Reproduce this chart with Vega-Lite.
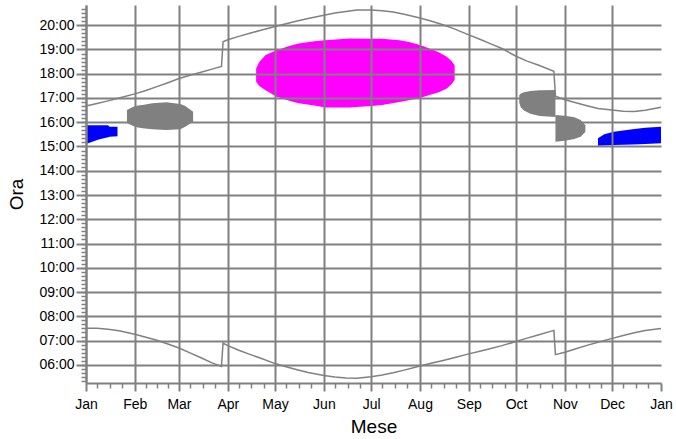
{
  "$schema": "https://vega.github.io/schema/vega-lite/v6.json",
  "width": 575,
  "height": 378,
  "autosize": {"type": "none"},
  "padding": {"left": 86, "top": 5, "right": 15, "bottom": 56},
  "background": "white",
  "config": {"view": {"stroke": null}, "font": "Liberation Sans"},
  "datasets": {
    "sole": [
      {"serie": "tramonto", "data": "2009-01-01", "ora": 16.67},
      {"serie": "tramonto", "data": "2009-01-08", "ora": 16.77},
      {"serie": "tramonto", "data": "2009-01-15", "ora": 16.88},
      {"serie": "tramonto", "data": "2009-01-22", "ora": 17.00},
      {"serie": "tramonto", "data": "2009-02-01", "ora": 17.17},
      {"serie": "tramonto", "data": "2009-02-08", "ora": 17.31},
      {"serie": "tramonto", "data": "2009-02-15", "ora": 17.47},
      {"serie": "tramonto", "data": "2009-02-22", "ora": 17.63},
      {"serie": "tramonto", "data": "2009-03-01", "ora": 17.80},
      {"serie": "tramonto", "data": "2009-03-08", "ora": 17.94},
      {"serie": "tramonto", "data": "2009-03-15", "ora": 18.06},
      {"serie": "tramonto", "data": "2009-03-22", "ora": 18.19},
      {"serie": "tramonto", "data": "2009-03-28", "ora": 18.30},
      {"serie": "tramonto", "data": "2009-03-29", "ora": 19.32},
      {"serie": "tramonto", "data": "2009-04-01", "ora": 19.40},
      {"serie": "tramonto", "data": "2009-04-08", "ora": 19.54},
      {"serie": "tramonto", "data": "2009-04-15", "ora": 19.67},
      {"serie": "tramonto", "data": "2009-04-22", "ora": 19.79},
      {"serie": "tramonto", "data": "2009-05-01", "ora": 19.95},
      {"serie": "tramonto", "data": "2009-05-08", "ora": 20.06},
      {"serie": "tramonto", "data": "2009-05-15", "ora": 20.17},
      {"serie": "tramonto", "data": "2009-05-22", "ora": 20.28},
      {"serie": "tramonto", "data": "2009-06-01", "ora": 20.41},
      {"serie": "tramonto", "data": "2009-06-08", "ora": 20.50},
      {"serie": "tramonto", "data": "2009-06-15", "ora": 20.57},
      {"serie": "tramonto", "data": "2009-06-22", "ora": 20.63},
      {"serie": "tramonto", "data": "2009-07-01", "ora": 20.63},
      {"serie": "tramonto", "data": "2009-07-08", "ora": 20.60},
      {"serie": "tramonto", "data": "2009-07-15", "ora": 20.54},
      {"serie": "tramonto", "data": "2009-07-22", "ora": 20.45},
      {"serie": "tramonto", "data": "2009-08-01", "ora": 20.30},
      {"serie": "tramonto", "data": "2009-08-08", "ora": 20.17},
      {"serie": "tramonto", "data": "2009-08-15", "ora": 20.03},
      {"serie": "tramonto", "data": "2009-08-22", "ora": 19.87},
      {"serie": "tramonto", "data": "2009-09-01", "ora": 19.60},
      {"serie": "tramonto", "data": "2009-09-08", "ora": 19.42},
      {"serie": "tramonto", "data": "2009-09-15", "ora": 19.23},
      {"serie": "tramonto", "data": "2009-09-22", "ora": 19.04},
      {"serie": "tramonto", "data": "2009-10-01", "ora": 18.72},
      {"serie": "tramonto", "data": "2009-10-08", "ora": 18.52},
      {"serie": "tramonto", "data": "2009-10-15", "ora": 18.36},
      {"serie": "tramonto", "data": "2009-10-25", "ora": 18.10},
      {"serie": "tramonto", "data": "2009-10-26", "ora": 17.07},
      {"serie": "tramonto", "data": "2009-11-01", "ora": 16.93},
      {"serie": "tramonto", "data": "2009-11-08", "ora": 16.80},
      {"serie": "tramonto", "data": "2009-11-15", "ora": 16.68},
      {"serie": "tramonto", "data": "2009-11-22", "ora": 16.57},
      {"serie": "tramonto", "data": "2009-12-01", "ora": 16.50},
      {"serie": "tramonto", "data": "2009-12-08", "ora": 16.45},
      {"serie": "tramonto", "data": "2009-12-15", "ora": 16.44},
      {"serie": "tramonto", "data": "2009-12-22", "ora": 16.49},
      {"serie": "tramonto", "data": "2010-01-01", "ora": 16.62},
      {"serie": "alba", "data": "2009-01-01", "ora": 7.51},
      {"serie": "alba", "data": "2009-01-08", "ora": 7.51},
      {"serie": "alba", "data": "2009-01-15", "ora": 7.47},
      {"serie": "alba", "data": "2009-01-22", "ora": 7.40},
      {"serie": "alba", "data": "2009-02-01", "ora": 7.26},
      {"serie": "alba", "data": "2009-02-08", "ora": 7.14},
      {"serie": "alba", "data": "2009-02-15", "ora": 7.01},
      {"serie": "alba", "data": "2009-02-22", "ora": 6.86},
      {"serie": "alba", "data": "2009-03-01", "ora": 6.69},
      {"serie": "alba", "data": "2009-03-08", "ora": 6.49},
      {"serie": "alba", "data": "2009-03-15", "ora": 6.29},
      {"serie": "alba", "data": "2009-03-22", "ora": 6.08},
      {"serie": "alba", "data": "2009-03-28", "ora": 5.93},
      {"serie": "alba", "data": "2009-03-29", "ora": 6.90},
      {"serie": "alba", "data": "2009-04-01", "ora": 6.79},
      {"serie": "alba", "data": "2009-04-08", "ora": 6.60},
      {"serie": "alba", "data": "2009-04-15", "ora": 6.43},
      {"serie": "alba", "data": "2009-04-22", "ora": 6.27},
      {"serie": "alba", "data": "2009-05-01", "ora": 6.05},
      {"serie": "alba", "data": "2009-05-08", "ora": 5.92},
      {"serie": "alba", "data": "2009-05-15", "ora": 5.80},
      {"serie": "alba", "data": "2009-05-22", "ora": 5.68},
      {"serie": "alba", "data": "2009-06-01", "ora": 5.56},
      {"serie": "alba", "data": "2009-06-08", "ora": 5.50},
      {"serie": "alba", "data": "2009-06-15", "ora": 5.46},
      {"serie": "alba", "data": "2009-06-22", "ora": 5.45},
      {"serie": "alba", "data": "2009-07-01", "ora": 5.51},
      {"serie": "alba", "data": "2009-07-08", "ora": 5.58},
      {"serie": "alba", "data": "2009-07-15", "ora": 5.67},
      {"serie": "alba", "data": "2009-07-22", "ora": 5.78},
      {"serie": "alba", "data": "2009-08-01", "ora": 5.95},
      {"serie": "alba", "data": "2009-08-08", "ora": 6.06},
      {"serie": "alba", "data": "2009-08-15", "ora": 6.17},
      {"serie": "alba", "data": "2009-08-22", "ora": 6.28},
      {"serie": "alba", "data": "2009-09-01", "ora": 6.45},
      {"serie": "alba", "data": "2009-09-08", "ora": 6.56},
      {"serie": "alba", "data": "2009-09-15", "ora": 6.67},
      {"serie": "alba", "data": "2009-09-22", "ora": 6.79},
      {"serie": "alba", "data": "2009-10-01", "ora": 6.96},
      {"serie": "alba", "data": "2009-10-08", "ora": 7.10},
      {"serie": "alba", "data": "2009-10-15", "ora": 7.23},
      {"serie": "alba", "data": "2009-10-25", "ora": 7.42},
      {"serie": "alba", "data": "2009-10-26", "ora": 6.42},
      {"serie": "alba", "data": "2009-11-01", "ora": 6.52},
      {"serie": "alba", "data": "2009-11-08", "ora": 6.66},
      {"serie": "alba", "data": "2009-11-15", "ora": 6.80},
      {"serie": "alba", "data": "2009-11-22", "ora": 6.93},
      {"serie": "alba", "data": "2009-12-01", "ora": 7.09},
      {"serie": "alba", "data": "2009-12-08", "ora": 7.21},
      {"serie": "alba", "data": "2009-12-15", "ora": 7.32},
      {"serie": "alba", "data": "2009-12-22", "ora": 7.41},
      {"serie": "alba", "data": "2010-01-01", "ora": 7.50}
    ],
    "macchie": [
      {"macchia": "b1", "colore": "blu", "data": "2009-01-01", "alto": 15.88, "basso": 15.10},
      {"macchia": "b1", "colore": "blu", "data": "2009-01-05", "alto": 15.88, "basso": 15.20},
      {"macchia": "b1", "colore": "blu", "data": "2009-01-09", "alto": 15.88, "basso": 15.29},
      {"macchia": "b1", "colore": "blu", "data": "2009-01-15", "alto": 15.88, "basso": 15.38},
      {"macchia": "b1", "colore": "blu", "data": "2009-01-16", "alto": 15.81, "basso": 15.40},
      {"macchia": "b1", "colore": "blu", "data": "2009-01-21", "alto": 15.81, "basso": 15.42},
      {"macchia": "g1", "colore": "grigio", "data": "2009-01-27", "alto": 16.50, "basso": 15.97},
      {"macchia": "g1", "colore": "grigio", "data": "2009-01-31", "alto": 16.64, "basso": 15.84},
      {"macchia": "g1", "colore": "grigio", "data": "2009-02-03", "alto": 16.69, "basso": 15.78},
      {"macchia": "g1", "colore": "grigio", "data": "2009-02-06", "alto": 16.71, "basso": 15.75},
      {"macchia": "g1", "colore": "grigio", "data": "2009-02-12", "alto": 16.78, "basso": 15.71},
      {"macchia": "g1", "colore": "grigio", "data": "2009-02-21", "alto": 16.82, "basso": 15.68},
      {"macchia": "g1", "colore": "grigio", "data": "2009-03-02", "alto": 16.75, "basso": 15.71},
      {"macchia": "g1", "colore": "grigio", "data": "2009-03-05", "alto": 16.67, "basso": 15.81},
      {"macchia": "g1", "colore": "grigio", "data": "2009-03-10", "alto": 16.43, "basso": 16.02},
      {"macchia": "m1", "colore": "magenta", "data": "2009-04-19", "alto": 18.22, "basso": 17.67},
      {"macchia": "m1", "colore": "magenta", "data": "2009-04-21", "alto": 18.48, "basso": 17.49},
      {"macchia": "m1", "colore": "magenta", "data": "2009-04-25", "alto": 18.77, "basso": 17.32},
      {"macchia": "m1", "colore": "magenta", "data": "2009-05-02", "alto": 18.97, "basso": 17.05},
      {"macchia": "m1", "colore": "magenta", "data": "2009-05-10", "alto": 19.14, "basso": 16.89},
      {"macchia": "m1", "colore": "magenta", "data": "2009-05-16", "alto": 19.25, "basso": 16.78},
      {"macchia": "m1", "colore": "magenta", "data": "2009-05-26", "alto": 19.34, "basso": 16.69},
      {"macchia": "m1", "colore": "magenta", "data": "2009-06-02", "alto": 19.38, "basso": 16.61},
      {"macchia": "m1", "colore": "magenta", "data": "2009-06-17", "alto": 19.45, "basso": 16.61},
      {"macchia": "m1", "colore": "magenta", "data": "2009-07-01", "alto": 19.44, "basso": 16.67},
      {"macchia": "m1", "colore": "magenta", "data": "2009-07-08", "alto": 19.44, "basso": 16.71},
      {"macchia": "m1", "colore": "magenta", "data": "2009-07-19", "alto": 19.38, "basso": 16.83},
      {"macchia": "m1", "colore": "magenta", "data": "2009-07-25", "alto": 19.31, "basso": 16.91},
      {"macchia": "m1", "colore": "magenta", "data": "2009-08-01", "alto": 19.18, "basso": 17.00},
      {"macchia": "m1", "colore": "magenta", "data": "2009-08-07", "alto": 19.04, "basso": 17.12},
      {"macchia": "m1", "colore": "magenta", "data": "2009-08-13", "alto": 18.89, "basso": 17.24},
      {"macchia": "m1", "colore": "magenta", "data": "2009-08-18", "alto": 18.70, "basso": 17.39},
      {"macchia": "m1", "colore": "magenta", "data": "2009-08-21", "alto": 18.52, "basso": 17.57},
      {"macchia": "m1", "colore": "magenta", "data": "2009-08-23", "alto": 18.35, "basso": 17.74},
      {"macchia": "g2a", "colore": "grigio", "data": "2009-10-03", "alto": 17.10, "basso": 16.80},
      {"macchia": "g2a", "colore": "grigio", "data": "2009-10-04", "alto": 17.18, "basso": 16.62},
      {"macchia": "g2a", "colore": "grigio", "data": "2009-10-06", "alto": 17.24, "basso": 16.48},
      {"macchia": "g2a", "colore": "grigio", "data": "2009-10-10", "alto": 17.29, "basso": 16.35},
      {"macchia": "g2a", "colore": "grigio", "data": "2009-10-16", "alto": 17.32, "basso": 16.26},
      {"macchia": "g2a", "colore": "grigio", "data": "2009-10-26", "alto": 17.33, "basso": 16.22},
      {"macchia": "g2b", "colore": "grigio", "data": "2009-10-26", "alto": 16.30, "basso": 15.20},
      {"macchia": "g2b", "colore": "grigio", "data": "2009-11-01", "alto": 16.27, "basso": 15.24},
      {"macchia": "g2b", "colore": "grigio", "data": "2009-11-07", "alto": 16.21, "basso": 15.31},
      {"macchia": "g2b", "colore": "grigio", "data": "2009-11-11", "alto": 16.09, "basso": 15.40},
      {"macchia": "g2b", "colore": "grigio", "data": "2009-11-14", "alto": 15.88, "basso": 15.61},
      {"macchia": "b2", "colore": "blu", "data": "2009-11-22", "alto": 15.34, "basso": 15.03},
      {"macchia": "b2", "colore": "blu", "data": "2009-11-26", "alto": 15.51, "basso": 15.04},
      {"macchia": "b2", "colore": "blu", "data": "2009-12-02", "alto": 15.61, "basso": 15.06},
      {"macchia": "b2", "colore": "blu", "data": "2009-12-14", "alto": 15.71, "basso": 15.08},
      {"macchia": "b2", "colore": "blu", "data": "2009-12-22", "alto": 15.77, "basso": 15.10},
      {"macchia": "b2", "colore": "blu", "data": "2010-01-01", "alto": 15.81, "basso": 15.13}
    ]
  },
  "layer": [
    {
      "data": {"name": "macchie"},
      "mark": {"type": "area", "interpolate": "linear"},
      "encoding": {
        "x": {
          "field": "data", "type": "temporal",
          "scale": {"type": "utc", "domain": [{"year": 2009, "month": 1, "date": 1, "utc": true}, {"year": 2010, "month": 1, "date": 1, "utc": true}]},
          "axis": {
            "orient": "bottom",
            "values": [
              {"year": 2009, "month": 1, "date": 1, "utc": true},
              {"year": 2009, "month": 2, "date": 1, "utc": true},
              {"year": 2009, "month": 3, "date": 1, "utc": true},
              {"year": 2009, "month": 4, "date": 1, "utc": true},
              {"year": 2009, "month": 5, "date": 1, "utc": true},
              {"year": 2009, "month": 6, "date": 1, "utc": true},
              {"year": 2009, "month": 7, "date": 1, "utc": true},
              {"year": 2009, "month": 8, "date": 1, "utc": true},
              {"year": 2009, "month": 9, "date": 1, "utc": true},
              {"year": 2009, "month": 10, "date": 1, "utc": true},
              {"year": 2009, "month": 11, "date": 1, "utc": true},
              {"year": 2009, "month": 12, "date": 1, "utc": true},
              {"year": 2010, "month": 1, "date": 1, "utc": true}
            ],
            "format": "%b",
            "labelFlush": false,
            "labelOverlap": false,
            "labelBound": false,
            "labelFontSize": 14,
            "labelColor": "#000000",
            "labelPadding": 6,
            "tickSize": 8,
            "tickWidth": 2,
            "tickColor": "#808080",
            "domainColor": "#808080",
            "domainWidth": 2,
            "grid": true,
            "gridColor": "#808080",
            "gridWidth": 2,
            "gridOpacity": {"condition": {"test": "datum.value >= utc(2009, 11, 31)", "value": 0}, "value": 1},
            "zindex": 1,
            "title": "Mese",
            "titleFontSize": 19,
            "titleFontWeight": "normal",
            "titleColor": "#000000",
            "titlePadding": 6
          }
        },
        "y": {
          "field": "alto", "type": "quantitative",
          "scale": {"domain": [5.25, 20.8333], "nice": false, "zero": false},
          "axis": {
            "orient": "left",
            "values": [6, 7, 8, 9, 10, 11, 12, 13, 14, 15, 16, 17, 18, 19, 20],
            "labelExpr": "(datum.value < 10 ? '0' : '') + datum.value + ':00'",
            "labelFontSize": 14,
            "labelColor": "#000000",
            "labelPadding": 2,
            "tickSize": 10,
            "tickWidth": 2,
            "tickColor": "#808080",
            "domainColor": "#808080",
            "domainWidth": 2,
            "grid": true,
            "gridColor": "#808080",
            "gridWidth": 2,
            "zindex": 1,
            "title": "Ora",
            "titleFontSize": 19,
            "titleFontWeight": "normal",
            "titleColor": "#000000",
            "titlePadding": 12
          }
        },
        "y2": {"field": "basso"},
        "color": {
          "field": "colore", "type": "nominal",
          "scale": {"domain": ["blu", "grigio", "magenta"], "range": ["#0000ff", "#808080", "#ff00ff"]},
          "legend": null
        },
        "detail": {"field": "macchia"}
      }
    },
    {
      "data": {"name": "sole"},
      "mark": {"type": "line", "color": "#808080", "strokeWidth": 1.5},
      "encoding": {
        "x": {
          "field": "data", "type": "temporal",
          "scale": {"type": "utc", "domain": [{"year": 2009, "month": 1, "date": 1, "utc": true}, {"year": 2010, "month": 1, "date": 1, "utc": true}]},
          "axis": {
            "orient": "bottom",
            "values": [
              {"year": 2009, "month": 1, "date": 8, "utc": true},
              {"year": 2009, "month": 1, "date": 16, "utc": true},
              {"year": 2009, "month": 1, "date": 24, "utc": true},
              {"year": 2009, "month": 2, "date": 8, "utc": true},
              {"year": 2009, "month": 2, "date": 15, "utc": true},
              {"year": 2009, "month": 2, "date": 22, "utc": true},
              {"year": 2009, "month": 3, "date": 8, "utc": true},
              {"year": 2009, "month": 3, "date": 16, "utc": true},
              {"year": 2009, "month": 3, "date": 24, "utc": true},
              {"year": 2009, "month": 4, "date": 8, "utc": true},
              {"year": 2009, "month": 4, "date": 16, "utc": true},
              {"year": 2009, "month": 4, "date": 24, "utc": true},
              {"year": 2009, "month": 5, "date": 8, "utc": true},
              {"year": 2009, "month": 5, "date": 16, "utc": true},
              {"year": 2009, "month": 5, "date": 24, "utc": true},
              {"year": 2009, "month": 6, "date": 8, "utc": true},
              {"year": 2009, "month": 6, "date": 16, "utc": true},
              {"year": 2009, "month": 6, "date": 24, "utc": true},
              {"year": 2009, "month": 7, "date": 8, "utc": true},
              {"year": 2009, "month": 7, "date": 16, "utc": true},
              {"year": 2009, "month": 7, "date": 24, "utc": true},
              {"year": 2009, "month": 8, "date": 8, "utc": true},
              {"year": 2009, "month": 8, "date": 16, "utc": true},
              {"year": 2009, "month": 8, "date": 24, "utc": true},
              {"year": 2009, "month": 9, "date": 8, "utc": true},
              {"year": 2009, "month": 9, "date": 16, "utc": true},
              {"year": 2009, "month": 9, "date": 24, "utc": true},
              {"year": 2009, "month": 10, "date": 8, "utc": true},
              {"year": 2009, "month": 10, "date": 16, "utc": true},
              {"year": 2009, "month": 10, "date": 24, "utc": true},
              {"year": 2009, "month": 11, "date": 8, "utc": true},
              {"year": 2009, "month": 11, "date": 16, "utc": true},
              {"year": 2009, "month": 11, "date": 24, "utc": true},
              {"year": 2009, "month": 12, "date": 8, "utc": true},
              {"year": 2009, "month": 12, "date": 16, "utc": true},
              {"year": 2009, "month": 12, "date": 24, "utc": true}
            ],
            "labels": false,
            "domain": false,
            "grid": false,
            "tickSize": 5,
            "tickWidth": 1.5,
            "tickColor": "#808080",
            "title": null
          }
        },
        "y": {
          "field": "ora", "type": "quantitative",
          "scale": {"domain": [5.25, 20.8333], "nice": false, "zero": false},
          "axis": {
            "orient": "left",
            "values": [5.3333, 5.5, 5.6667, 5.8333, 6, 6.1667, 6.3333, 6.5, 6.6667, 6.8333, 7, 7.1667, 7.3333, 7.5, 7.6667, 7.8333, 8, 8.1667, 8.3333, 8.5, 8.6667, 8.8333, 9, 9.1667, 9.3333, 9.5, 9.6667, 9.8333, 10, 10.1667, 10.3333, 10.5, 10.6667, 10.8333, 11, 11.1667, 11.3333, 11.5, 11.6667, 11.8333, 12, 12.1667, 12.3333, 12.5, 12.6667, 12.8333, 13, 13.1667, 13.3333, 13.5, 13.6667, 13.8333, 14, 14.1667, 14.3333, 14.5, 14.6667, 14.8333, 15, 15.1667, 15.3333, 15.5, 15.6667, 15.8333, 16, 16.1667, 16.3333, 16.5, 16.6667, 16.8333, 17, 17.1667, 17.3333, 17.5, 17.6667, 17.8333, 18, 18.1667, 18.3333, 18.5, 18.6667, 18.8333, 19, 19.1667, 19.3333, 19.5, 19.6667, 19.8333, 20, 20.1667, 20.3333, 20.5, 20.6667],
            "labels": false,
            "domain": false,
            "grid": false,
            "tickSize": 5,
            "tickWidth": 1.5,
            "tickColor": "#808080",
            "title": null
          }
        },
        "detail": {"field": "serie"}
      }
    }
  ],
  "resolve": {"axis": {"x": "independent", "y": "independent"}}
}
